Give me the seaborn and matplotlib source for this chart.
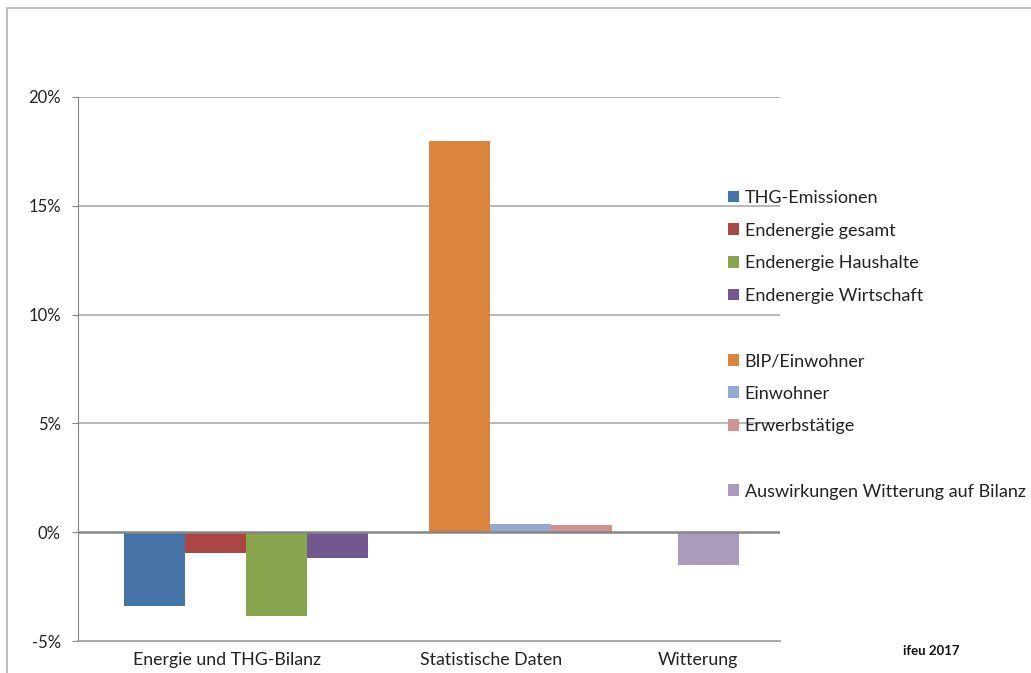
import matplotlib
matplotlib.use("Agg")
import matplotlib.pyplot as plt
import seaborn as sns
import pandas as pd
from matplotlib.patches import Patch, Rectangle

# ---- data ----
series = ["THG-Emissionen", "Endenergie gesamt", "Endenergie Haushalte", "Endenergie Wirtschaft",
          "BIP/Einwohner", "Einwohner", "Erwerbstätige", "Auswirkungen Witterung auf Bilanz"]
values = [-3.4, -0.95, -3.85, -1.18, 18.0, 0.37, 0.32, -1.5]
slots = [0, 1, 2, 3, 5, 6, 7, 9.07]
colors = ["#4572A7", "#AA4643", "#89A54E", "#71588F", "#DB843D", "#93A9CF", "#D19392", "#A99BBD"]
categories = ["Energie und THG-Bilanz", "Statistische Daten", "Witterung"]
category_pos = [1.18, 5.51, 8.9]
yticks = [-5, 0, 5, 10, 15, 20]
legend_groups = [[0, 1, 2, 3], [4, 5, 6], [7]]

df = pd.DataFrame({"pos": slots, "value": values, "series": series})

sns.set_theme(style="white")
plt.rcParams["font.family"] = ["Lato", "DejaVu Sans"]

W, H = 1031, 673
fig = plt.figure(figsize=(W / 100, H / 100), dpi=100)
ax = fig.add_axes([78 / W, 1 - 641 / H, (780 - 78) / W, (641 - 97) / H])

sns.barplot(data=df, x="pos", y="value", hue="series", hue_order=series,
            palette=colors, native_scale=True, width=1.0, dodge=False,
            legend=False, saturation=1, linewidth=0, ax=ax)

ax.set_xlim(-1.262, 10.246)
ax.set_ylim(-5, 20)
ax.set_yticks(yticks)
ax.set_yticklabels([f"{t}%" for t in yticks], fontsize=12, color="#222222")
ax.set_xticks(category_pos)
ax.set_xticklabels(categories, fontsize=12.8, color="#222222")
ax.tick_params(axis="x", length=0, pad=8)
ax.tick_params(axis="y", length=4.3, width=0.8, color="#888888", pad=8, left=True)
ax.set_xlabel("")
ax.set_ylabel("")

for t in yticks:
    if t not in (0, -5):
        ax.axhline(t, color="#b3b3b3", lw=1.3, zorder=0)
ax.axhline(0, color="#868686", lw=1.8, zorder=3)
for s in ["top", "right"]:
    ax.spines[s].set_visible(False)
ax.spines["left"].set_color("#868686")
ax.spines["left"].set_linewidth(0.8)
ax.spines["bottom"].set_color("#a0a0a0")
ax.spines["bottom"].set_linewidth(1.3)

# legend with blank rows between groups
handles, labels = [], []
for gi, grp in enumerate(legend_groups):
    if gi > 0:
        handles.append(Patch(facecolor="none", edgecolor="none"))
        labels.append(" ")
    for i in grp:
        handles.append(Patch(facecolor=colors[i], edgecolor="none"))
        labels.append(series[i])
fig.legend(handles, labels, loc="upper left", bbox_to_anchor=(728 / W, 1 - 190 / H),
           frameon=False, fontsize=13, handlelength=0.62, handleheight=0.62,
           handletextpad=0.3, labelspacing=0.92, borderpad=0, borderaxespad=0,
           labelcolor="#222222")

fig.text(931 / W, 1 - 651 / H, "ifeu 2017", fontsize=9.5, fontweight="bold",
         ha="center", va="center", color="#111111")

# outer frame
fig.patches.append(Rectangle((7 / W, -0.1), 1.2, 1 - 8 / H + 0.1, transform=fig.transFigure,
                             fill=False, edgecolor="#b5b5b5", lw=1.2))

fig.savefig("out.png", dpi=100)
